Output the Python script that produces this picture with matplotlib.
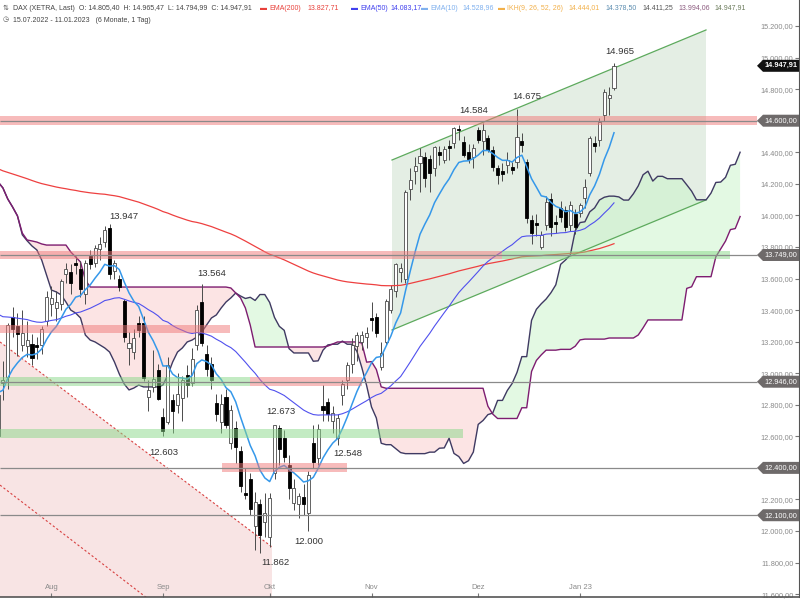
import numpy as np
import matplotlib
matplotlib.use('Agg')
import matplotlib.pyplot as plt
from matplotlib import font_manager
from matplotlib.patches import Polygon
from matplotlib.transforms import blended_transform_factory

# DAX (XETRA) daily candles, index 0 = 15.07.2022 ... index 127 = 11.01.2023
opens = [12600, 12935, 12975, 13355, 13300, 13180, 13170, 13185, 13180, 13180,
         13330, 13440, 13410, 13440, 13630, 13640, 13700, 13660, 13500, 13740,
         13700, 13790, 13830, 13920, 13650, 13600, 13460, 13160, 13135, 13320,
         13320, 12850, 12910, 13020, 12720, 12690, 12830, 12800, 12840, 12990,
         12940, 13180, 13450, 13120, 13060, 12810, 12690, 12850, 12560, 12650,
         12510, 12240, 12330, 12030, 12170, 12060, 11960, 12370, 12650, 12590,
         12420, 12180, 12170, 12215, 12114, 12560, 12460, 12790, 12820, 12700,
         12590, 12860, 12960, 13060, 13170, 13200, 13230, 13350, 13355, 13040,
         13200, 13400, 13520, 13640, 13600, 14170, 14280, 14330, 14370, 14360,
         14300, 14400, 14350, 14440, 14460, 14550, 14465, 14402, 14370, 14541,
         14470, 14490, 14414, 14300, 14280, 14319, 14306, 14338, 14470, 14338,
         13970, 13950, 13800, 13939, 14104, 13960, 14047, 14034, 13939, 14009,
         14015, 14110, 14269, 14460, 14478, 14636, 14744, 14805.40]
highs = [12880, 13080, 13320, 13420, 13380, 13400, 13330, 13250, 13230, 13300,
         13520, 13550, 13520, 13600, 13700, 13690, 13740, 13710, 13720, 13780,
         13810, 13860, 13930, 13947, 13720, 13620, 13470, 13260, 13280, 13360,
         13360, 12960, 13150, 13060, 12780, 13100, 12870, 13000, 12980, 13050,
         13160, 13430, 13564, 13180, 13100, 12870, 12870, 12900, 12800, 12700,
         12540, 12400, 12370, 12250, 12200, 12240, 12240, 12673, 12670, 12640,
         12480, 12330, 12240, 12300, 12380, 12670, 12680, 12925, 12840, 12790,
         12740, 12960, 13070, 13220, 13260, 13270, 13290, 13450, 13380, 13200,
         13470, 13560, 13700, 13700, 14160, 14300, 14370, 14430, 14400, 14380,
         14440, 14440, 14440, 14480, 14560, 14570, 14500, 14450, 14450, 14560,
         14584, 14510, 14440, 14320, 14330, 14400, 14340, 14675, 14520, 14360,
         14000, 14010, 13900, 14120, 14140, 14000, 14090, 14060, 14090, 14040,
         14080, 14230, 14500, 14500, 14620, 14800, 14813, 14965.47]
lows = [12560, 12830, 12900, 13230, 13110, 13140, 13100, 13050, 13090, 13120,
        13300, 13360, 13330, 13400, 13570, 13500, 13630, 13480, 13440, 13660,
        13670, 13720, 13800, 13600, 13600, 13520, 13200, 13050, 13090, 13230,
        12950, 12760, 12880, 12830, 12603, 12680, 12620, 12750, 12700, 12850,
        12920, 13150, 13170, 12980, 12900, 12700, 12620, 12650, 12520, 12430,
        12250, 12200, 12100, 11880, 11862, 11960, 11900, 12330, 12420, 12440,
        12200, 12130, 12080, 12100, 12000, 12400, 12420, 12700, 12700, 12620,
        12548, 12800, 12900, 13000, 13080, 13150, 13160, 13270, 13230, 13020,
        13180, 13380, 13480, 13580, 13570, 14100, 14200, 14150, 14180, 14150,
        14250, 14320, 14330, 14350, 14430, 14480, 14370, 14330, 14300, 14460,
        14380, 14400, 14280, 14200, 14220, 14270, 14260, 14300, 14400, 13950,
        13820, 13870, 13790, 13910, 13870, 13890, 13960, 13900, 13900, 13880,
        13990, 14050, 14250, 14400, 14440, 14600, 14636, 14794.99]
closes = [12864, 12959, 13308, 13282, 13246, 13254, 13210, 13097, 13166, 13282,
          13484, 13479, 13449, 13587, 13662, 13574, 13688, 13535, 13700, 13694,
          13795, 13816, 13910, 13626, 13697, 13544, 13230, 13194, 13220, 13271,
          12971, 12893, 12961, 12835, 12631, 13050, 12761, 12871, 12960, 12925,
          13088, 13403, 13189, 13028, 12956, 12741, 12803, 12671, 12767, 12531,
          12284, 12227, 12140, 12183, 11976, 12114, 12209, 12670, 12517, 12471,
          12273, 12272, 12219, 12172, 12355, 12438, 12649, 12765, 12741, 12750,
          12716, 12931, 13053, 13178, 13240, 13243, 13253, 13339, 13257, 13130,
          13460, 13533, 13689, 13666, 14146, 14224, 14313, 14379, 14234, 14266,
          14431, 14380, 14422, 14428, 14554, 14541, 14383, 14355, 14427, 14478,
          14540, 14414, 14306, 14256, 14265, 14351, 14288, 14497, 14446, 13983,
          13888, 13939, 13876, 14085, 13926, 13945, 13990, 13926, 14066, 13926,
          14066, 14180, 14490, 14440, 14592, 14782, 14763, 14947.91]

# Ichimoku cloud values before the price data can supply them
span_a_early = [14212, 14174, 14104, 14053, 13997, 13877, 13839, 13806, 13781, 13717,
                13623, 13527, 13515, 13496, 13451, 13400, 13381, 13350, 13242, 13210,
                13198, 13179, 13160, 13134, 13071, 12995, 12932, 12894, 12906, 12925,
                12913, 12913, 12913, 12913, 12925, 12989, 13071, 13134, 13160, 13198,
                13210, 13229, 13261, 13305, 13350, 13369, 13413, 13451, 13477, 13508,
                13489]
span_b_early = [14212, 14174, 14104, 14053, 13997, 13888, 13844, 13838, 13831, 13819,
                13812, 13812, 13812, 13812, 13812, 13768, 13736, 13705, 13591, 13546,
                13546, 13546, 13546, 13546, 13546, 13546, 13546, 13546, 13546, 13546,
                13546, 13546, 13546, 13546, 13546, 13546, 13546, 13546, 13546, 13546,
                13546, 13546, 13546, 13546, 13546, 13546, 13546, 13546, 13540, 13508,
                13477, 13413, 13305, 13166, 13166, 13166, 13166, 13166, 13166, 13166,
                13166, 13166, 13166, 13166, 13166, 13166, 13166, 13166, 13172, 13185,
                13198, 13198, 13198, 13198, 13198, 13191, 13070]

# EMA start values on the first day
ema_seeds = {10: 12880, 50: 13395, 200: 14310}

# horizontal levels / zones
level_lines = [14600, 13749, 12946, 12400, 12100]
zone_levels = [14600, 13749, 13749, 13280, 12946, 12946, 12618, 12400]
zone_kinds = ['r', 'r', 'g', 'r', 'g', 'r', 'g', 'r']

peak_idx = [127, 107, 100, 23, 42, 57]
peak_vals = [14965, 14675, 14584, 13947, 13564, 12673]
trough_idx = [34, 70, 54, 64]
trough_vals = [12603, 12548, 11862, 12000]

month_idx = [11, 34, 56, 77, 99, 120]
month_labels = ['Aug', 'Sep', 'Okt', 'Nov', 'Dez', 'Jan 23']

_names = {f.name for f in font_manager.fontManager.ttflist}
NARROW = 'Liberation Sans Narrow' in _names
FONT = 'Liberation Sans Narrow' if NARROW else 'Liberation Sans'
plt.rcParams['font.family'] = [FONT, 'DejaVu Sans']
fs = 1.0 if NARROW else 0.85


def de(v, dec=2):
    s = f"{v:,.{dec}f}"
    return s.replace(',', '#').replace('.', ',').replace('#', '.')


def ema(vals, n, seed):
    k = 2 / (n + 1)
    out, e = [], seed
    for v in vals:
        e = e + k * (v - e)
        out.append(e)
    return np.array(out)


def mid(hh, ll, n, j):
    return (max(hh[j - n + 1:j + 1]) + min(ll[j - n + 1:j + 1])) / 2


def px2i(x):
    # pixel column -> candle index
    return (x + 1.95) / 4.85


n = len(closes)
span_a = list(span_a_early) + [(mid(highs, lows, 9, i - 26) + mid(highs, lows, 26, i - 26)) / 2
                               for i in range(len(span_a_early), n + 26)]
span_b = list(span_b_early) + [mid(highs, lows, 52, i - 26)
                               for i in range(len(span_b_early), n + 26)]
span_a = np.array(span_a)
span_b = np.array(span_b)
cloud_x = np.arange(len(span_a))

fig = plt.figure(figsize=(8, 6), dpi=100)
ax = fig.add_axes([0, 3 / 600, 799 / 800, 597 / 600])
ax.set_xlim(px2i(0), px2i(799))
ax.set_ylim(11581.8, 15364.9)

# trend channels
up0, up1 = (px2i(392), 14351), (px2i(706), 15175)
lo0, lo1 = (px2i(392), 13274), (px2i(706), 14098)
ax.add_patch(Polygon([up0, up1, lo1, lo0], closed=True, fc='#d3e3d3', alpha=0.6, ec='none', zorder=1))
ax.plot([up0[0], up1[0]], [up0[1], up1[1]], color='#5daa5d', lw=0.9, zorder=2)
ax.plot([lo0[0], lo1[0]], [lo0[1], lo1[1]], color='#5daa5d', lw=0.9, zorder=2)

d0, d1 = (px2i(0), 13198), (px2i(272), 11899)
ax.add_patch(Polygon([d0, d1, (d1[0], 10000), (d0[0], 10000)], closed=True,
                     fc='#f0c4c4', alpha=0.45, ec='none', zorder=1))
ax.plot([d0[0], d1[0]], [d0[1], d1[1]], color='#d84040', lw=0.8, ls=(0, (2, 2)), zorder=2)
ax.plot([px2i(0), px2i(272)], [12291, 10967], color='#d84040', lw=0.8, ls=(0, (2, 2)), zorder=2)

# ichimoku cloud
ax.fill_between(cloud_x, span_a, span_b, where=span_a >= span_b, interpolate=True,
                color='#c9f5c9', alpha=0.5, lw=0, zorder=1.5)
ax.fill_between(cloud_x, span_a, span_b, where=span_b > span_a, interpolate=True,
                color='#fbcaca', alpha=0.5, lw=0, zorder=1.5)
ax.plot(cloud_x, span_a, color='#3f3a62', lw=1.0, zorder=2.5)
ax.plot(cloud_x, span_b, color='#7d1d70', lw=1.0, zorder=2.5)

# candles
x = np.arange(n)
o, h, l, c = map(np.array, (opens, highs, lows, closes))
up = c >= o
body_lo = np.minimum(o, c)
body_h = np.maximum(np.abs(c - o), 8)
ax.vlines(x, l, h, color='#4a4a4a', lw=0.7, zorder=3)
ax.bar(x[up], body_h[up], bottom=body_lo[up], width=0.62, color='white',
       edgecolor='#4a4a4a', lw=0.6, zorder=3.5)
ax.bar(x[~up], body_h[~up], bottom=body_lo[~up], width=0.62, color='black',
       edgecolor='black', lw=0.6, zorder=3.5)

# moving averages
ax.plot(x, ema(closes, 200, ema_seeds[200]), color='#ee4040', lw=0.9, zorder=4)
ax.plot(x, ema(closes, 50, ema_seeds[50]), color='#5050ee', lw=0.8, zorder=4)
ax.plot(x, ema(closes, 10, ema_seeds[10]), color='#3598ea', lw=1.1, zorder=4)

# support / resistance zones and lines
zone_span = [(0, 757), (0, 502), (502, 730), (0, 230), (0, 250), (250, 362), (0, 463), (222, 347)]
zone_col = {'r': '#f07878', 'g': '#88d888'}
for lev, kind, (a0, a1) in zip(zone_levels, zone_kinds, zone_span):
    ax.fill_between([px2i(a0), px2i(a1)], lev - 28, lev + 28, color=zone_col[kind],
                    alpha=0.5, lw=0, zorder=5)
for lev in level_lines:
    ax.hlines(lev, px2i(0), px2i(757), color='#8a8a8a', lw=0.9, zorder=5.5)

# high / low annotations
peak_off = [(6, 12), (10, 12), (-9, 13), (14, 7), (10, 11), (6, 13)]
trough_off = [(1, -17), (10, -9), (15, -10), (0, -10)]
for i, v, (dx, dy) in zip(peak_idx, peak_vals, peak_off):
    ax.annotate(de(v, 0), (i, v), xytext=(dx * 0.72, dy * 0.72), textcoords='offset points',
                ha='center', va='center', fontsize=8 * fs, color='#333333', zorder=8)
for i, v, (dx, dy) in zip(trough_idx, trough_vals, trough_off):
    ax.annotate(de(v, 0), (i, v), xytext=(dx * 0.72, dy * 0.72), textcoords='offset points',
                ha='center', va='center', fontsize=8 * fs, color='#333333', zorder=8)

# axes styling
for s in ['top', 'left']:
    ax.spines[s].set_visible(False)
ax.spines['right'].set_color('#555555')
ax.spines['bottom'].set_color('#555555')
ax.spines['bottom'].set_linewidth(1.2)
ax.yaxis.tick_right()
yt = np.arange(11600, 15201, 200)
ax.set_yticks(yt)
# labels sitting exactly under a price tag are hidden by it in the original
ax.set_yticklabels(['' if v in level_lines else de(v) for v in yt])
ax.tick_params(axis='y', direction='in', length=3, color='#777777', labelcolor='#8a8a8a',
               labelsize=6.3 * fs, pad=-4)
for t in ax.get_yticklabels():
    t.set_horizontalalignment('right')
ax.set_xticks(month_idx)
ax.set_xticklabels(month_labels)
ax.tick_params(axis='x', direction='in', length=3, color='#777777', labelcolor='#8a8a8a',
               labelsize=6.5 * fs, pad=-9.5)

# price tags on the right edge
tr = blended_transform_factory(ax.transAxes, ax.transData)


def tag(price, text, fc, bold=False):
    hh = 38
    xa, xb = 757 / 799, 763 / 799
    ax.add_patch(Polygon([(xa, price), (xb, price + hh), (1, price + hh), (1, price - hh),
                          (xb, price - hh)], closed=True, transform=tr, fc=fc, ec='none',
                         zorder=9, clip_on=False))
    ax.text(781 / 799, price, text, transform=tr, ha='center', va='center', color='white',
            fontsize=6.3 * fs, fontweight='bold' if bold else 'normal', zorder=10)


for lev in level_lines:
    tag(lev, de(lev), '#6e6a6a')
tag(closes[-1], de(closes[-1]), '#111111', bold=True)

# header
hfs = 6.5 * (1.0 if NARROW else 0.78)
y1, y2 = 1 - 8 / 600, 1 - 20 / 600
segs = [
    (3, '⇅', '#555555'),
    (13, 'DAX (XETRA, Last)  O: 14.805,40  H: 14.965,47  L: 14.794,99  C: 14.947,91', '#444444'),
    (260, '▬', '#e8403a'), (269, 'EMA(200)', '#e8403a'), (307, '13.827,71', '#e8403a'),
    (351, '▬', '#4040ee'), (360, 'EMA(50)', '#4040ee'), (390, '14.083,17', '#4040ee'),
    (421, '▬', '#7fb0ee'), (430, 'EMA(10)', '#7fb0ee'), (462, '14.528,96', '#7fb0ee'),
    (498, '▬', '#f2b04a'), (507, 'IKH(9, 26, 52, 26)', '#f2b04a'), (568, '14.444,01', '#f2b04a'),
    (605, '14.378,50', '#5c8db0'), (642, '14.411,25', '#555555'), (678, '13.994,06', '#8b5a7e'),
    (714, '14.947,91', '#6b7b5b'),
]
for px, s, col in segs:
    fig.text(px / 800, y1, s, ha='left', va='center', fontsize=hfs, color=col)
fig.text(3 / 800, y2, '◷', ha='left', va='center', fontsize=hfs, color='#555555')
fig.text(13 / 800, y2, '15.07.2022 - 11.01.2023   (6 Monate, 1 Tag)', ha='left', va='center',
         fontsize=hfs, color='#444444')

fig.savefig('out.png', dpi=100)
